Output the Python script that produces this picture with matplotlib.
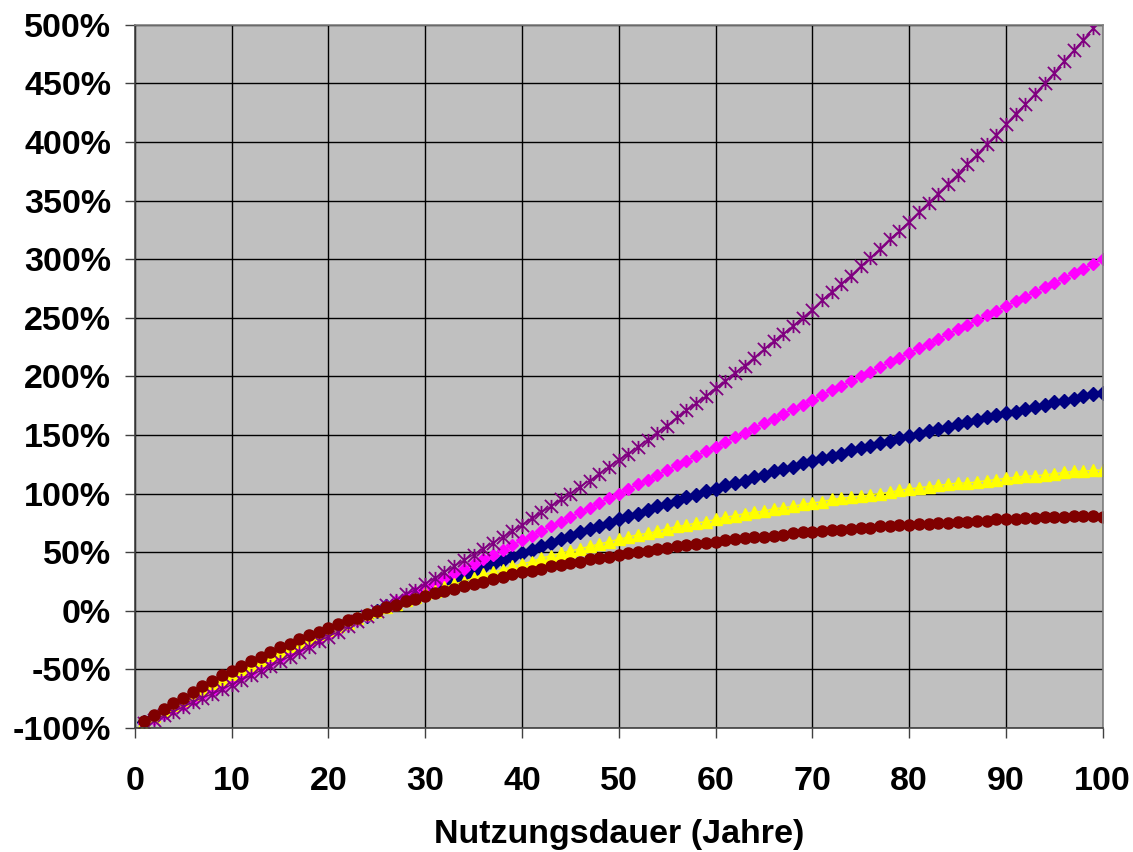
import numpy as np
import matplotlib
matplotlib.use("Agg")
import matplotlib.pyplot as plt
from matplotlib.path import Path
from matplotlib.ticker import FuncFormatter, MultipleLocator

plt.rcParams['font.family'] = ['Liberation Sans', 'DejaVu Sans']

# Nutzungsdauer in Jahren
jahre = list(range(1, 101))

# Werte in Prozent
navy = [-95, -91, -87, -82, -78, -74, -69, -65, -61,
        -57, -53, -49, -45, -41, -37, -33, -29, -26, -22,
        -18, -14, -11, -7, -4, 0, 4, 7, 10, 14,
        17, 21, 24, 27, 30, 34, 37, 40, 43, 46,
        49, 52, 55, 58, 61, 64, 67, 70, 72, 75,
        78, 81, 83, 86, 89, 91, 94, 97, 99, 102,
        104, 107, 109, 111, 114, 116, 119, 121, 123, 126,
        128, 130, 132, 134, 137, 139, 141, 143, 145, 147,
        149, 151, 153, 155, 157, 159, 161, 163, 165, 167,
        169, 170, 172, 174, 176, 178, 179, 181, 183, 185,
        186]

magenta = [-96, -92, -88, -84, -80, -76, -72, -68, -64,
           -60, -56, -52, -48, -44, -40, -36, -32, -28, -24,
           -20, -16, -12, -8, -4, 0, 4, 8, 12, 16,
           20, 24, 28, 32, 36, 40, 44, 48, 52, 56,
           60, 64, 68, 72, 76, 80, 84, 88, 92, 96,
           100, 104, 108, 112, 116, 120, 124, 128, 132, 136,
           140, 144, 148, 152, 156, 160, 164, 168, 172, 176,
           180, 184, 188, 192, 196, 200, 204, 208, 212, 216,
           220, 224, 228, 232, 236, 240, 244, 248, 252, 256,
           260, 264, 268, 272, 276, 280, 284, 288, 292, 296,
           300]

gelb = [-95, -90, -85, -80, -76, -71, -67, -62, -58,
        -54, -50, -46, -42, -38, -34, -30, -27, -23, -20,
        -16, -13, -10, -6, -3, 0, 3, 6, 9, 12,
        15, 17, 20, 23, 25, 28, 31, 33, 35, 38,
        40, 42, 45, 47, 49, 51, 53, 55, 57, 59,
        61, 63, 65, 66, 68, 70, 72, 73, 75, 76,
        78, 80, 81, 83, 84, 85, 87, 88, 89, 91,
        92, 93, 95, 96, 97, 98, 99, 100, 101, 103,
        104, 105, 106, 107, 108, 109, 109, 110, 111, 112,
        113, 114, 115, 115, 116, 117, 118, 119, 119, 120,
        120]

lila = [-96, -93, -89, -86, -82, -78, -74, -71, -67,
        -63, -59, -55, -51, -47, -43, -39, -35, -31, -26,
        -22, -18, -13, -9, -4, 0, 5, 9, 14, 18,
        23, 28, 33, 38, 43, 48, 53, 58, 63, 68,
        73, 79, 84, 89, 95, 100, 106, 111, 117, 123,
        129, 134, 140, 146, 152, 158, 165, 171, 177, 183,
        190, 196, 203, 209, 216, 223, 230, 236, 243, 250,
        257, 265, 272, 279, 286, 294, 301, 309, 317, 324,
        332, 340, 348, 356, 364, 372, 381, 389, 398, 406,
        415, 424, 432, 441, 450, 459, 469, 478, 487, 497,
        506]

braun = [-94, -89, -84, -79, -74, -69, -64, -60, -55,
         -51, -47, -43, -39, -35, -31, -28, -24, -21, -18,
         -15, -11, -8, -6, -3, 0, 3, 5, 8, 10,
         13, 15, 17, 19, 21, 23, 25, 27, 29, 31,
         33, 34, 36, 38, 39, 41, 42, 44, 45, 46,
         48, 49, 50, 51, 53, 54, 55, 56, 57, 58,
         59, 60, 61, 62, 63, 63, 64, 65, 66, 67,
         67, 68, 69, 69, 70, 71, 71, 72, 72, 73,
         73, 74, 74, 75, 75, 76, 76, 77, 77, 78,
         78, 78, 79, 79, 80, 80, 80, 81, 81, 81,
         80]

# Excel-Stern: X mit senkrechtem Strich
stern = Path([(-1, -1), (1, 1), (-1, 1), (1, -1), (0, -1), (0, 1)],
             [Path.MOVETO, Path.LINETO, Path.MOVETO, Path.LINETO,
              Path.MOVETO, Path.LINETO])

fig = plt.figure(figsize=(11.33, 8.52), dpi=100)
ax = fig.add_axes([0.1189, 0.1455, 0.9733 - 0.1189, 0.971 - 0.1455])
ax.set_facecolor('#C0C0C0')

ax.plot(jahre, navy, color='#000080', lw=1, marker='D', ms=7.5, mec='#000080')
ax.plot(jahre, magenta, color='#FF00FF', lw=1, marker='D', ms=6, mec='#FF00FF')
ax.plot(jahre, gelb, color='#FFFF00', lw=1, marker='^', ms=9, mec='#FFFF00')
ax.plot(jahre, lila, color='#800080', lw=1, marker=stern, ms=9.5,
        mfc='none', mec='#800080', mew=1.3)
ax.plot(jahre, braun, color='#800000', lw=1, marker='o', ms=8, mec='#800000')

ax.set_xlim(0, 100)
ax.set_ylim(-100, 500)
ax.xaxis.set_major_locator(MultipleLocator(10))
ax.yaxis.set_major_locator(MultipleLocator(50))
ax.yaxis.set_major_formatter(FuncFormatter(lambda v, p: f"{v:.0f}%"))

ax.grid(True, color='black', lw=1)
ax.set_axisbelow(True)
for s in ['top', 'right']:
    ax.spines[s].set_color('#808080')
for s in ['left', 'bottom']:
    ax.spines[s].set_color('#404040')
for s in ax.spines.values():
    s.set_linewidth(1.2)

ax.tick_params(axis='both', direction='out', length=7, width=1, color='#404040',
               labelsize=24.5)
ax.tick_params(axis='x', pad=20)
ax.tick_params(axis='y', pad=10)
for lab in ax.get_xticklabels() + ax.get_yticklabels():
    lab.set_fontweight('bold')

ax.set_xlabel("Nutzungsdauer (Jahre)", fontsize=24.5, fontweight='bold', labelpad=16)

fig.savefig("out.png", dpi=100)
